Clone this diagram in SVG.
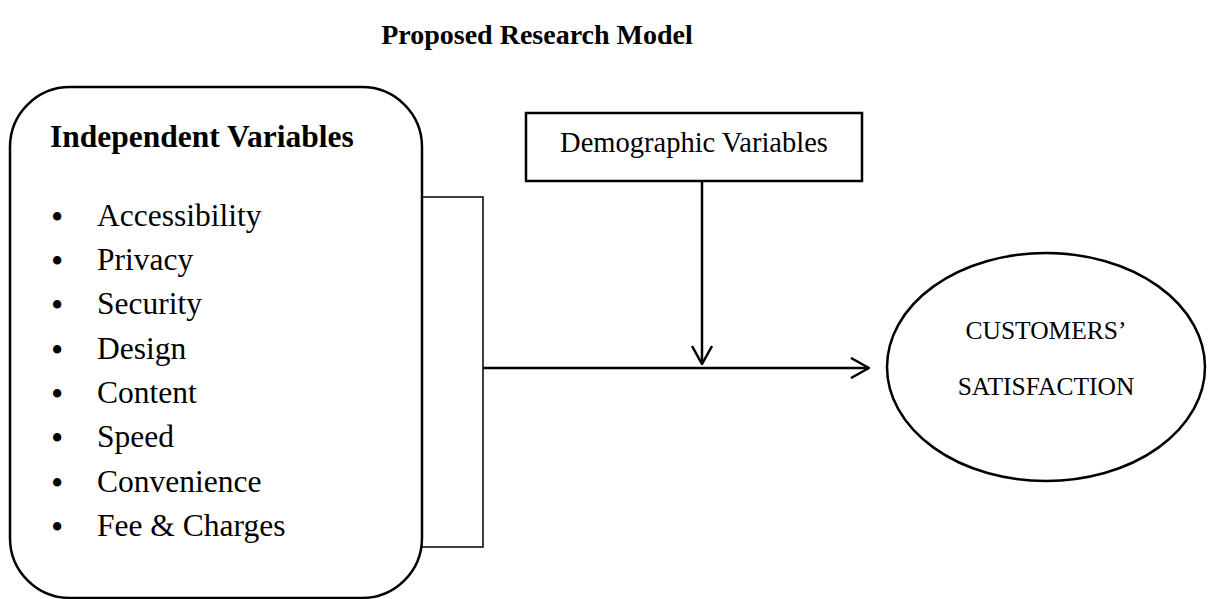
<svg xmlns="http://www.w3.org/2000/svg" width="1209" height="599" viewBox="0 0 1209 599">
<style>
text{font-family:"Liberation Serif","Times New Roman",serif;fill:#000}
.b{font-weight:bold}
.shape{fill:#fff;stroke:#000;stroke-width:2.5}
.line{fill:none;stroke:#000;stroke-width:2.5}
.thin{fill:none;stroke:#000;stroke-width:1.5}
.item{font-size:31.5px}
.dot{font-size:35px}
</style>
<defs>
<marker id="arr" viewBox="0 0 20 22" refX="19" refY="11" markerWidth="20" markerHeight="22" orient="auto" markerUnits="userSpaceOnUse">
<path d="M1,1 L19,11 L1,21" fill="none" stroke="#000" stroke-width="2.5"/>
</marker>
</defs>
<rect width="1209" height="599" fill="#fff"/>
<text class="b" x="537" y="44" font-size="28" text-anchor="middle">Proposed Research Model</text>
<g id="independent">
<rect class="shape" x="10" y="87" width="412" height="511" rx="60" ry="60"/>
<text class="b" x="50" y="147" font-size="31.5">Independent Variables</text>
<g>
<text x="51" y="229" class="dot">•</text><text x="97" y="226" class="item">Accessibility</text>
<text x="51" y="273" class="dot">•</text><text x="97" y="270" class="item">Privacy</text>
<text x="51" y="317" class="dot">•</text><text x="97" y="314" class="item">Security</text>
<text x="51" y="362" class="dot">•</text><text x="97" y="359" class="item">Design</text>
<text x="51" y="406" class="dot">•</text><text x="97" y="403" class="item">Content</text>
<text x="51" y="450" class="dot">•</text><text x="97" y="447" class="item">Speed</text>
<text x="51" y="495" class="dot">•</text><text x="97" y="492" class="item">Convenience</text>
<text x="51" y="539" class="dot">•</text><text x="97" y="536" class="item">Fee &amp; Charges</text>
</g>
</g>
<g id="demographic">
<rect class="shape" x="526" y="113" width="336" height="68"/>
<text x="694" y="152" font-size="28.5" text-anchor="middle">Demographic Variables</text>
</g>
<g id="satisfaction">
<ellipse class="shape" cx="1046" cy="367" rx="159" ry="114"/>
<text x="1046" y="339" font-size="25.5" text-anchor="middle">CUSTOMERS’</text>
<text x="1046" y="395" font-size="25.5" text-anchor="middle">SATISFACTION</text>
</g>
<g id="connectors">
<path class="thin" d="M422,197 H483 V547 H422"/>
<line class="line" x1="483" y1="368" x2="869" y2="368" marker-end="url(#arr)"/>
<line class="line" x1="702" y1="181" x2="702" y2="364" marker-end="url(#arr)"/>
</g>
</svg>
